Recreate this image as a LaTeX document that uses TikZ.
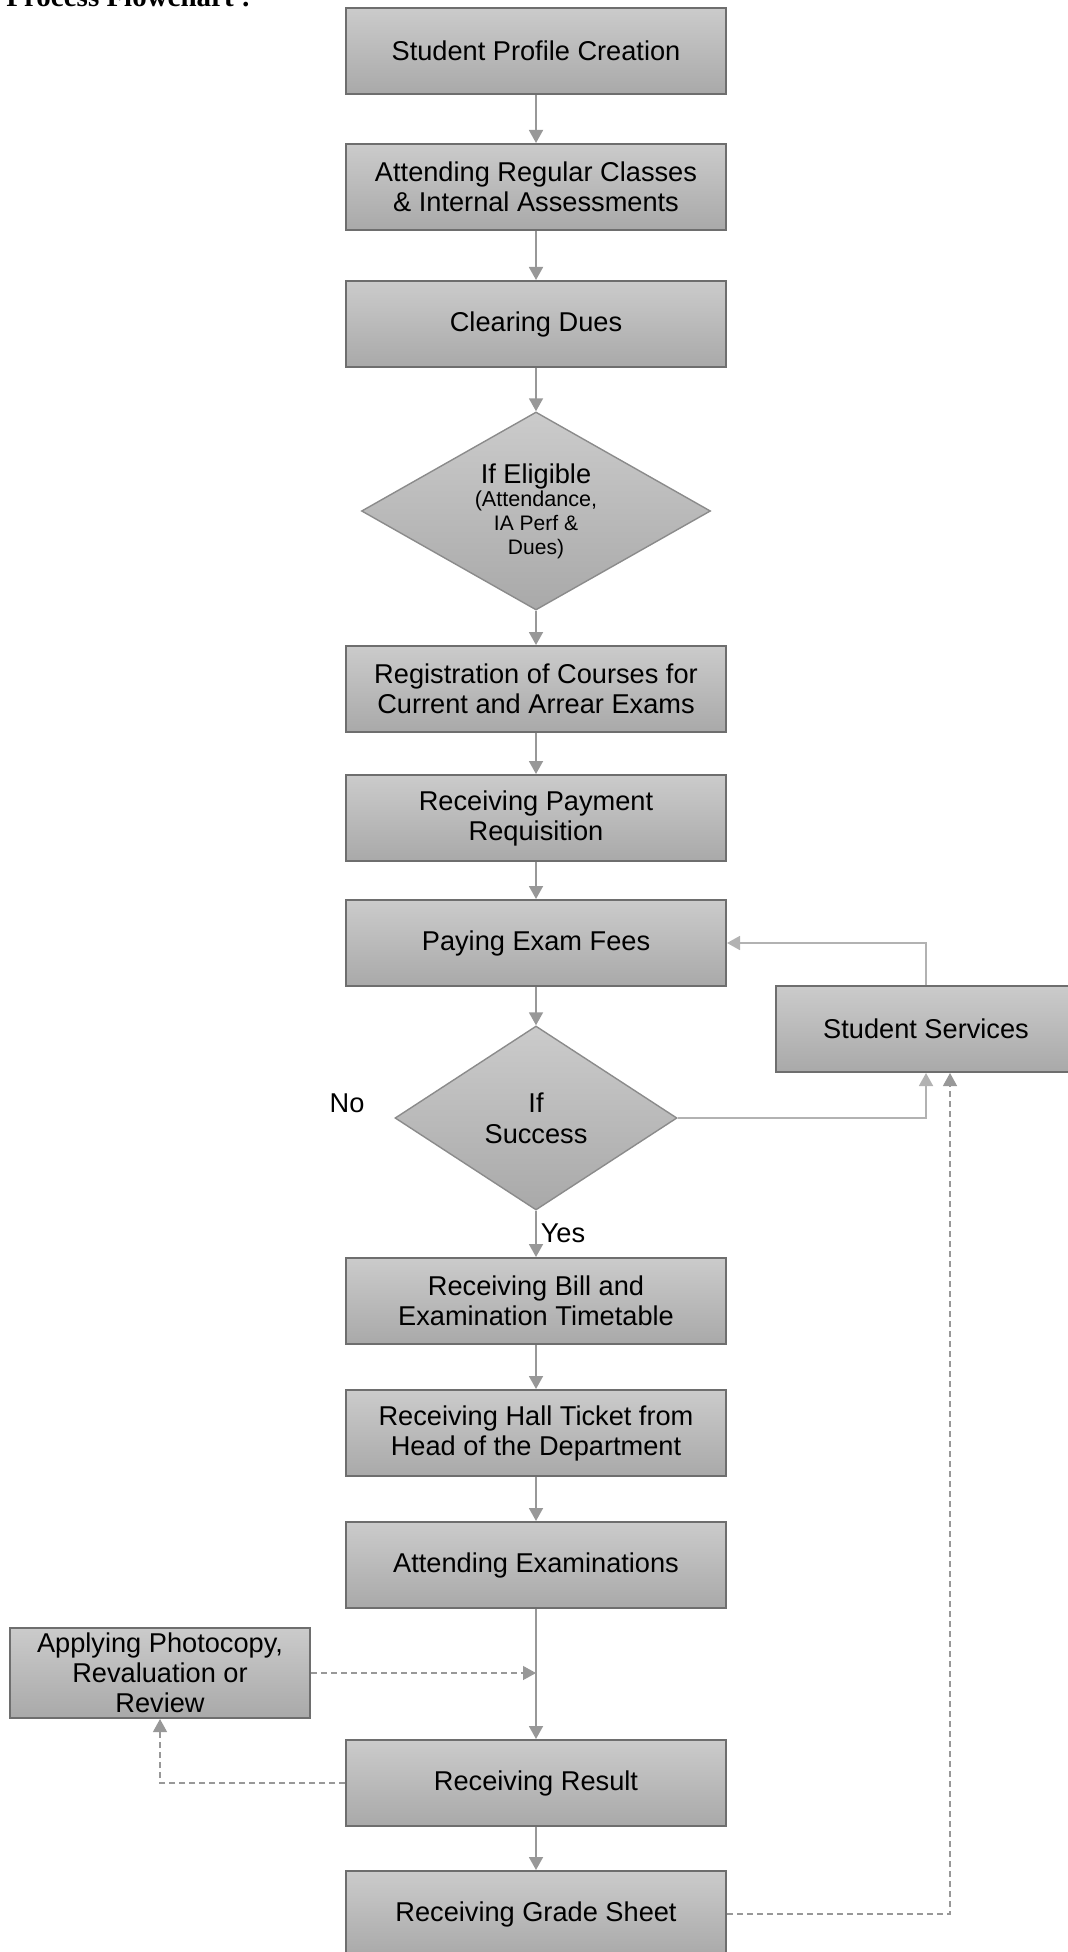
\documentclass[tikz,border=0pt]{standalone}
\usepackage{fontspec}
\setmainfont{Liberation Sans}
\newfontfamily\headfont{Liberation Serif}
\usetikzlibrary{arrows.meta,shapes.geometric}
\definecolor{boxtop}{HTML}{CBCBCB}
\definecolor{boxbot}{HTML}{A9A9A9}
\definecolor{boxedge}{HTML}{6E6E6E}
\definecolor{flowline}{HTML}{989898}
\tikzset{
    stage/.style={rectangle, draw=boxedge, line width=1pt, top color=boxtop, bottom color=boxbot,
        minimum width=190pt, minimum height=43pt, inner sep=0pt, align=center,
        font=\fontsize{13.6}{15}\selectfont},
    check/.style={diamond, draw=boxedge!80, line width=0.7pt, top color=boxtop, bottom color=boxbot,
        inner sep=0pt, align=center},
    flow/.style={draw=flowline, line width=0.9pt, -{Triangle[width=7pt,length=6.5pt]}},
    sideflow/.style={flow, line width=0.6pt, dash pattern=on 3pt off 2pt},
    answer/.style={font=\fontsize{13.6}{15}\selectfont, inner sep=0pt}
}
\begin{document}
\begin{tikzpicture}[x=0.5pt,y=-0.5pt]
                \useasboundingbox (0,0) rectangle (1068,1952);
                \node[anchor=base west, inner sep=0pt, font=\headfont\bfseries\fontsize{14.5}{17}\selectfont] (title) at (6,7) {Process Flowchart :};
                \node[stage] (profile) at (536,51) {Student Profile Creation};
                \node[stage] (classes) at (536,187) {Attending Regular Classes\\ \& Internal Assessments};
                \node[stage] (dues) at (536,324) {Clearing Dues};
                \node[check, minimum width=174.5pt, minimum height=99pt, shape aspect=1.76,
                    font=\fontsize{10.5}{11.8}\selectfont] (eligible) at (536,511)
                    {\fontsize{13.6}{16}\selectfont If Eligible\\ \fontsize{10.8}{11.8}\selectfont (Attendance,\\ IA Perf \&\\ Dues)};
                \node[stage] (register) at (536,689) {Registration of Courses for\\ Current and Arrear Exams};
                \node[stage] (payreq) at (536,818) {Receiving Payment\\ Requisition};
                \node[stage] (fees) at (536,943) {Paying Exam Fees};
                \node[stage, minimum width=150pt] (services) at (926,1029) {Student Services};
                \node[check, minimum width=141pt, minimum height=92pt, shape aspect=1.53,
                    font=\fontsize{13.6}{15.5}\selectfont] (success) at (536,1118) {If\\ Success};
                \node[answer] (no) at (347,1103) {No};
                \node[answer] (yes) at (563,1233) {Yes};
                \node[stage] (bill) at (536,1301) {Receiving Bill and\\ Examination Timetable};
                \node[stage] (hall) at (536,1433) {Receiving Hall Ticket from\\ Head of the Department};
                \node[stage] (attend) at (536,1565) {Attending Examinations};
                \node[stage, minimum width=150pt, minimum height=45pt] (review) at (160,1673) {Applying Photocopy,\\ Revaluation or\\ Review};
                \node[stage] (result) at (536,1783) {Receiving Result};
                \node[stage] (grade) at (536,1914) {Receiving Grade Sheet};
                \draw[flow] (profile) -- (classes);
                \draw[flow] (classes) -- (dues);
                \draw[flow] (dues) -- (eligible);
                \draw[flow] (eligible) -- (register);
                \draw[flow] (register) -- (payreq);
                \draw[flow] (payreq) -- (fees);
                \draw[flow] (fees) -- (success);
                \draw[flow] (success) -- (bill);
                \draw[flow] (bill) -- (hall);
                \draw[flow] (hall) -- (attend);
                \draw[flow] (attend) -- (result);
                \draw[flow] (result) -- (grade);
                \draw[flow, draw=flowline!75] (success.east) -| (services.south);
                \draw[flow, draw=flowline!75] (services.north) |- (fees.east);
                \draw[sideflow] (review.east) -- (review.east -| attend.south);
                \draw[sideflow] (result.west) -| (review.south);
                \draw[sideflow] (grade.east) -| ([xshift=12pt]services.south);
            \end{tikzpicture}
\end{document}
